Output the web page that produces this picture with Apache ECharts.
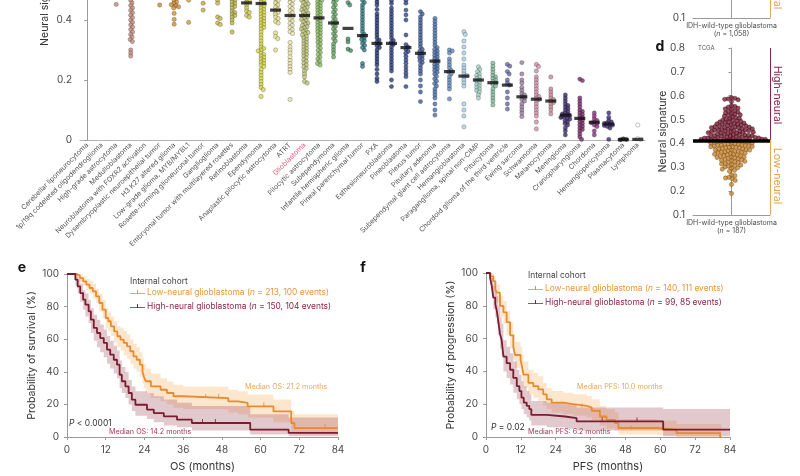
<!DOCTYPE html>
<html><head><meta charset="utf-8">
<script src="https://cdn.jsdelivr.net/npm/echarts@6/dist/echarts.min.js"></script>
<style>html,body{margin:0;padding:0;background:#fff}#c{width:800px;height:476px}</style>
</head><body><div id="c"></div>
<script>
// ---------------- DATA ----------------
const categories = ['Cerebellar liponeurocytoma','1p/19q codeleted oligodendroglioma','High-grade astrocytoma','Medulloblastoma','Neuroblastoma with FOXR2 activation','Dysembryoplastic neuroepithelial tumor','H3 K27 altered glioma','Low-grade glioma, MYB/MYBL1','Rosette-forming glioneuronal tumor','Ganglioglioma','Embryonal tumor with multilayered rosettes','Retinoblastoma','Ependymoma','Anaplastic pilocytic astrocytoma','ATRT','Glioblastoma','Pilocytic astrocytoma','Subependymoma','Infantile hemispheric glioma','Pineal parenchymal tumor','PXA','Esthesioneuroblastoma','Pineoblastoma','Plexus tumor','Pituitary adenoma','Subependymal giant cell astrocytoma','Hemangioblastoma','Paraganglioma, spinal non-CIMP','Pituicytoma','Chordoid glioma of the third ventricle','Ewing sarcoma','Schwannoma','Melanocytoma','Meningioma','Craniopharyngioma','Chordoma','Hemangiopericytoma','Plasmacytoma','Lymphoma'];
const medianSignature = [0.53,0.53,0.5,0.5,0.55,0.52,0.5,0.5,0.5,0.5,0.48,0.457,0.455,0.433,0.415,0.415,0.407,0.39,0.372,0.348,0.322,0.322,0.308,0.289,0.263,0.228,0.213,0.2,0.191,0.183,0.144,0.136,0.13,0.083,0.072,0.059,0.053,0.001,0.002];
const tumorValues = [
 [0.6,0.56,0.53,0.51,0.49],
 [0.62,0.6,0.58,0.56,0.55,0.53,0.52,0.5,0.49,0.48],
 [0.58,0.55,0.52,0.5,0.49,0.48,0.452],
 [0.62,0.59,0.56,0.54,0.52,0.5,0.49,0.48,0.466,0.457,0.448,0.44,0.432,0.424,0.416,0.408,0.4,0.392,0.384,0.376,0.368,0.36,0.352,0.343,0.335,0.328,0.3,0.29,0.28],
 [0.6,0.57,0.54,0.52],
 [0.58,0.55,0.52,0.5,0.45],
 [0.6,0.56,0.53,0.5,0.48,0.466,0.46,0.455,0.451,0.447,0.444,0.44,0.422,0.402,0.386],
 [0.57,0.53,0.5,0.466,0.392],
 [0.55,0.5,0.456,0.433],
 [0.6,0.55,0.52,0.5,0.48,0.466,0.456,0.41,0.405,0.39,0.385],
 [0.58,0.54,0.52,0.5,0.49,0.48,0.47,0.465,0.46,0.455,0.45,0.445,0.44,0.43,0.425,0.42,0.415,0.41,0.4,0.39,0.36],
 [0.54,0.51,0.49,0.48,0.47,0.466,0.46,0.45,0.44,0.43,0.425,0.415,0.41],
 [0.6,0.58,0.56,0.54,0.53,0.52,0.51,0.5,0.495,0.49,0.485,0.48,0.475,0.47,0.465,0.46,0.455,0.45,0.445,0.44,0.435,0.43,0.425,0.42,0.415,0.41,0.405,0.4,0.395,0.39,0.385,0.38,0.375,0.37,0.36,0.35,0.34,0.33,0.32,0.31,0.305,0.3,0.297,0.29,0.285,0.28,0.275,0.27,0.265,0.26,0.255,0.25,0.245,0.235,0.225,0.215,0.205,0.195,0.185,0.175,0.168,0.145],
 [0.56,0.52,0.5,0.48,0.47,0.465,0.457,0.45,0.443,0.436,0.43,0.425,0.42,0.41,0.405,0.395,0.39,0.357,0.345,0.338,0.3],
 [0.58,0.55,0.52,0.5,0.49,0.48,0.47,0.466,0.459,0.452,0.445,0.438,0.431,0.424,0.417,0.41,0.403,0.396,0.389,0.382,0.375,0.368,0.361,0.355,0.325,0.31,0.3,0.29,0.277,0.265,0.255,0.245,0.235,0.225,0.135],
 [0.62,0.58,0.55,0.53,0.51,0.5,0.49,0.48,0.475,0.47,0.466,0.462,0.458,0.454,0.45,0.446,0.442,0.438,0.434,0.43,0.426,0.422,0.418,0.414,0.41,0.406,0.402,0.398,0.394,0.39,0.386,0.382,0.378,0.374,0.37,0.366,0.362,0.358,0.354,0.35,0.345,0.34,0.335,0.33,0.325,0.32,0.315,0.31,0.305,0.3,0.295,0.29,0.285,0.28,0.274,0.268,0.262,0.256,0.25,0.244,0.238,0.23,0.22,0.21,0.195,0.19],
 [0.6,0.56,0.53,0.51,0.5,0.49,0.48,0.47,0.466,0.461,0.456,0.451,0.446,0.441,0.436,0.431,0.426,0.421,0.416,0.411,0.406,0.401,0.396,0.391,0.386,0.381,0.376,0.371,0.366,0.361,0.356,0.35,0.344,0.338,0.332,0.326,0.32,0.313,0.306,0.299,0.292,0.285,0.277,0.27,0.262,0.255,0.25],
 [0.55,0.5,0.48,0.47,0.466,0.458,0.45,0.442,0.434,0.426,0.418,0.41,0.402,0.395,0.39,0.385,0.378,0.37,0.362,0.354,0.346,0.338,0.33,0.32,0.31,0.3,0.29,0.277],
 [0.55,0.5,0.48,0.458,0.45,0.337,0.327,0.303,0.298],
 [0.52,0.48,0.466,0.458,0.45,0.44,0.43,0.42,0.41,0.4,0.39,0.38,0.37,0.36,0.352,0.346,0.34,0.335,0.33,0.322,0.315,0.308,0.3,0.255,0.245],
 [0.5,0.47,0.46,0.45,0.435,0.42,0.41,0.4,0.39,0.38,0.37,0.36,0.35,0.34,0.333,0.326,0.32,0.314,0.308,0.3,0.29,0.28,0.27,0.26,0.25,0.235,0.22,0.205,0.195],
 [0.5,0.48,0.465,0.455,0.44,0.43,0.42,0.41,0.4,0.39,0.38,0.37,0.36,0.35,0.34,0.332,0.325,0.318,0.31,0.3,0.29,0.28,0.27,0.26,0.25,0.24,0.23,0.2,0.178],
 [0.5,0.48,0.466,0.456,0.433,0.417,0.4,0.35,0.318,0.31,0.302,0.295,0.289,0.278,0.267,0.256,0.244,0.233,0.222,0.211,0.178],
 [0.428,0.42,0.41,0.4,0.39,0.38,0.37,0.36,0.35,0.34,0.33,0.32,0.31,0.302,0.296,0.29,0.285,0.28,0.275,0.27,0.264,0.258,0.25,0.24,0.23,0.22,0.2,0.18,0.16,0.128],
 [0.405,0.395,0.385,0.375,0.365,0.355,0.345,0.335,0.325,0.315,0.308,0.302,0.297,0.292,0.287,0.282,0.277,0.272,0.267,0.262,0.257,0.252,0.247,0.242,0.237,0.232,0.226,0.22,0.212,0.204,0.196,0.188,0.18,0.17,0.16,0.15,0.14,0.12,0.1,0.083],
 [0.3,0.297,0.29,0.27,0.26,0.25,0.24,0.232,0.226,0.22,0.21,0.2,0.19,0.18,0.17,0.137],
 [0.361,0.352,0.33,0.31,0.29,0.27,0.25,0.24,0.23,0.22,0.215,0.21,0.2,0.19,0.18,0.12,0.1,0.08,0.044],
 [0.244,0.235,0.228,0.22,0.215,0.21,0.205,0.2,0.195,0.19,0.185,0.18,0.175,0.17,0.165,0.16,0.15,0.14],
 [0.256,0.245,0.235,0.225,0.215,0.21,0.205,0.2,0.195,0.19,0.185,0.18,0.17,0.16,0.15,0.14,0.13,0.117],
 [0.252,0.246,0.228,0.22,0.2,0.19,0.183,0.16,0.14,0.12,0.103],
 [0.258,0.22,0.2,0.19,0.175,0.165,0.155,0.15,0.145,0.14,0.135,0.13,0.12,0.11,0.1,0.09,0.078],
 [0.252,0.245,0.23,0.21,0.2,0.19,0.18,0.17,0.16,0.15,0.145,0.14,0.135,0.13,0.12,0.11,0.1,0.09,0.08,0.06,0.037],
 [0.21,0.17,0.16,0.15,0.14,0.135,0.13,0.125,0.12,0.11,0.1,0.087],
 [0.15,0.14,0.13,0.12,0.115,0.11,0.105,0.1,0.095,0.09,0.087,0.085,0.082,0.08,0.077,0.075,0.072,0.07,0.065,0.06,0.055,0.05,0.04,0.03,0.017],
 [0.203,0.198,0.14,0.13,0.12,0.11,0.1,0.095,0.09,0.085,0.08,0.075,0.07,0.065,0.06,0.055,0.05,0.045,0.04,0.035,0.03,0.02,0.01,0.002],
 [0.09,0.08,0.07,0.065,0.06,0.057,0.055,0.05,0.045,0.03,0.017],
 [0.09,0.075,0.065,0.06,0.057,0.055,0.052,0.05,0.048,0.045,0.04,0.002],
 [0.004,0.002,0.001],
 [0.05,0.004,0.002]
];
const tumorColors = ['#c48a84','#c48a84','#c28580','#c48a7a','#cc7f3a','#d08a30','#cf8f2c','#c9a030','#c8a838','#c9b84a','#bdb545','#cccc4c','#d6d648','#e2df85','#e6e3a6','#bcc574','#8cbc62','#62a45f','#3b8a60','#2a7a80','#22346c','#283a80','#2c4689','#3c5c9a','#4a70ab','#5e88b8','#a4d0e8','#9fd2c6','#80b99a','#6867a6','#9a7aa0','#cf8ea8','#cc8a98','#3a2a6a','#7a2a6a','#8a3080','#3a2a70','#111111','#ffffff'];

const tcgaHigh = [0.592,0.589,0.587,0.585,0.583,0.575,0.558,0.555,0.552,0.548,0.545,0.542,0.537,0.534,0.531,0.528,0.525,0.522,0.52,0.517,0.514,0.511,0.508,0.505,0.503,0.501,0.498,0.496,0.494,0.492,0.49,0.489,0.487,0.485,0.483,0.482,0.48,0.479,0.478,0.476,0.474,0.473,0.471,0.47,0.469,0.468,0.467,0.466,0.465,0.463,0.462,0.461,0.459,0.458,0.457,0.456,0.455,0.454,0.453,0.452,0.451,0.449,0.448,0.447,0.446,0.445,0.444,0.443,0.441,0.439,0.438,0.437,0.436,0.435,0.434,0.433,0.432,0.431,0.43,0.429,0.428,0.427,0.426,0.425,0.424,0.423,0.423,0.422,0.421,0.421,0.42,0.419,0.419,0.418,0.418,0.417,0.417,0.416,0.416];
const tcgaLow = [0.414,0.413,0.412,0.411,0.41,0.409,0.408,0.407,0.406,0.405,0.404,0.402,0.401,0.399,0.398,0.397,0.396,0.395,0.394,0.393,0.392,0.391,0.39,0.389,0.387,0.386,0.385,0.384,0.383,0.382,0.381,0.379,0.377,0.376,0.374,0.373,0.372,0.371,0.369,0.367,0.366,0.364,0.363,0.362,0.361,0.359,0.357,0.355,0.353,0.352,0.351,0.349,0.347,0.345,0.343,0.342,0.341,0.339,0.337,0.335,0.333,0.331,0.329,0.327,0.325,0.323,0.321,0.319,0.316,0.314,0.311,0.309,0.306,0.304,0.301,0.298,0.295,0.292,0.287,0.283,0.268,0.265,0.258,0.255,0.252,0.245,0.228,0.19];
const tcgaMedian = 0.415;
const cohortThreshold = 0.42;

const osLowT  = [0,3,4,5,6,7,8,9,10,11,12,12.8,13.6,14.6,15.6,16.6,17.6,18.6,19.6,20.6,21.6,22.6,23.4,23.8,24.4,26,29,31,33,36,50,53,56,64,69.5,70.5,84];
const osLowS  = [100,99,97.5,95.5,93.5,91.4,89.4,86.3,82.2,78.1,73,71,67.9,64.8,61.8,59.7,57.7,55.6,52.6,49.5,47.4,44.4,40,37.2,34.2,31.1,29,27,25,23.9,21.9,20.9,18.8,15.7,8.6,5.5,5.5];
const osLowLo = [100,97,95,93,90,88,85,82,77,73,67,65,62,58,55,53,50,48,45,42,40,37,33,30,27,24,22,20,18,17,15,14,12,9,3,1.5,1.5];
const osLowHi = [100,100,100,98.5,97,96,94,91,88,84,79,77,74,71,68,67,65,63,60,57,55,52,48,45,42,39,36,34,32,31,29,28,26,23,16,14,14];
const osHighT  = [0,2.6,3.3,4.1,5,5.7,6.7,7.4,8.3,9.3,10.3,11.4,12.4,13.4,14.5,15.5,16.3,17,18.1,19.1,20.1,21.2,24.8,26.9,30,34.1,38.7,56.8,68.7,84];
const osHighS  = [100,96.5,92.4,88.3,84.3,81.2,77.1,72,66.9,63.8,60.7,57.7,53.6,50.5,47.4,44.4,38.2,34.2,31.1,27,22.9,19.8,16.8,14.7,12.7,10.6,8.6,4.5,2.5,2.5];
const osHighLo = [100,93,88,83,78,74,70,64,59,55,52,49,45,42,39,36,30,27,24,20,16,13,11,9,7,6,4,1.5,0.5,0.5];
const osHighHi = [100,100,97,94,90,88,84,79,75,72,69,66,62,59,56,53,47,43,40,35,31,28,27,25,23,21,19,14,12,12];
const pfsLowT  = [0,1.4,2.5,3.2,3.7,4.8,6,7.1,8.3,9.4,10,11.9,12.5,12.9,14.6,16.3,18,19.7,20.9,22.6,26.6,30.1,34.7,36.4,39.2,41.5,44.4,45.6,58.8,65.6,80.6,81];
const pfsLowS  = [100,98,95,90,88,80,76,70,62,55,50,47,42,38,33,31,29,26,23,21,20,19,18,16,12.5,10.5,8.5,5.5,4.5,2.4,0,0];
const pfsLowLo = [100,95,91,85,82,73,69,62,54,47,42,39,34,30,26,24,22,19,17,15,14,13,12,10,7,5,4,1.5,1,0,0,0];
const pfsLowHi = [100,100,99,95,93,86,83,77,70,63,58,55,50,46,41,39,37,33,30,28,27,26,25,23,19,17,15,11,10,8,8,8];
const pfsHighT  = [0,1.4,2,2.5,3.2,3.7,4.2,4.8,5.4,6,7.1,8.3,9.4,10.6,11.5,12.2,13,14,14.9,15.6,20.9,27.2,31.2,61,84];
const pfsHighS  = [100,97,92,85,81,77,71,63,59,49,45,41,36,31,28,24,21,19,17,13.5,12.5,11.5,9.5,4.5,4.5];
const pfsHighLo = [100,93,86,78,73,69,62,54,50,40,36,32,27,23,20,17,14,12,10,7,6,5,4,0.5,0.5];
const pfsHighHi = [100,100,97,92,89,86,80,73,69,59,55,51,46,41,38,34,31,28,26,22,21,20,18,17,17];
const osLowCensor = [[43,23.9],[47,23.9],[61,18.8],[80,5.5]];
const osHighCensor = [[42,8.6],[46,8.6]];
const pfsLowCensor = [[33,18],[50,4.5]];
const pfsHighCensor = [[40,9.5],[52,9.5]];

// ---------------- STYLE / LAYOUT ----------------
const FONT = 'Inter, "Noto Sans", "DejaVu Sans", sans-serif';
const ORANGE = '#e88a2d', MAROON = '#7b1d31';
const ORANGE_T = '#e8963c', MAROON_T = '#8c2448';
const AX = '#9a9a9a', LBL = '#4a4a4a';
const LEG_FS = 8.4;
const A_W = 565, A_CAT = A_W / categories.length, A_PX = 300;
const D_W = 77, D_PX = 240;

function swarm(vals, pxPerUnit, d, maxHalf) {
  const idx = vals.map((v, i) => i).sort((a, b) => vals[b] - vals[a]);
  const placed = [], out = new Array(vals.length);
  for (const i of idx) {
    const y = vals[i] * pxPerUnit;
    const near = placed.filter(p => Math.abs(p.y - y) < d);
    const cands = [0];
    near.forEach(p => { const dx = Math.sqrt(d * d - (p.y - y) ** 2); cands.push(p.x + dx, p.x - dx); });
    cands.sort((a, b) => Math.abs(a) - Math.abs(b));
    let best = null;
    for (const c of cands) {
      if (near.every(p => (p.x - c) ** 2 + (p.y - y) ** 2 >= d * d - 1e-6)) { best = c; break; }
    }
    if (best === null) best = 0;
    if (Math.abs(best) > maxHalf) best = Math.sign(best) * maxHalf;
    placed.push({ x: best, y });
    out[i] = best;
  }
  return out;
}

const aPoints = [];
tumorValues.forEach((vals, c) => {
  const offs = swarm(vals, A_PX, 3.0, 4.5);
  vals.forEach((v, k) => aPoints.push({ value: [c + offs[k] / A_CAT, v], itemStyle: { color: tumorColors[c] } }));
});
const aMedians = medianSignature.map((m, c) => [c, m]);

function dPoints(vals) {
  const offs = swarm(vals, D_PX, 3.5, D_W / 2 - 1);
  return vals.map((v, k) => [offs[k] / (D_W / 2), v]);
}
const dHigh = dPoints(tcgaHigh), dLow = dPoints(tcgaLow);

function band(t, lo, hi, color, xi, yi) {
  return {
    type: 'custom', xAxisIndex: xi, yAxisIndex: yi, silent: true, z: 1,
    data: t.map((x, i) => [x, lo[i], hi[i]]),
    encode: { x: 0, y: [1, 2] },
    renderItem(params, api) {
      if (params.dataIndex !== 0) return null;
      const pts = [];
      for (let i = 0; i < t.length; i++) { pts.push(api.coord([t[i], hi[i]])); if (i < t.length - 1) pts.push(api.coord([t[i + 1], hi[i]])); }
      for (let i = t.length - 1; i >= 0; i--) { if (i < t.length - 1) pts.push(api.coord([t[i + 1], lo[i]])); pts.push(api.coord([t[i], lo[i]])); }
      return { type: 'polygon', shape: { points: pts }, style: { fill: color } };
    }
  };
}
function km(name, t, s, color, xi, yi) {
  return { name, type: 'line', step: 'end', xAxisIndex: xi, yAxisIndex: yi, symbol: 'none', z: 3,
    data: t.map((x, i) => [x, s[i]]), lineStyle: { color, width: 1.8 }, itemStyle: { color } };
}
function censor(pts, color, xi, yi) {
  return { type: 'scatter', xAxisIndex: xi, yAxisIndex: yi, symbol: 'rect', symbolSize: [1, 4], symbolOffset: [0, -2],
    itemStyle: { color }, data: pts, z: 4, silent: true };
}

const baseAxis = (extra) => Object.assign({
  axisLine: { show: true, lineStyle: { color: AX, width: 1 } },
  axisTick: { show: true, length: 3, lineStyle: { color: AX } },
  axisLabel: { color: LBL, fontSize: 10, fontFamily: FONT, showMinLabel: true, showMaxLabel: true },
  splitLine: { show: false },
  nameTextStyle: { color: '#333', fontSize: 10.5, fontFamily: FONT },
  nameMoveOverlap: false
}, extra);

const NAMES = {
  osLow: 'Low-neural glioblastoma (n = 213, 100 events)',
  osHigh: 'High-neural glioblastoma (n = 150, 104 events)',
  pfsLow: 'Low-neural glioblastoma (n = 140, 111 events)',
  pfsHigh: 'High-neural glioblastoma (n = 99, 85 events)'
};
const LEG_ICON = 'path://M0,5L16,5L16,6L0,6Z M7.5,1.5L8.5,1.5L8.5,5.5L7.5,5.5Z';
const legItem = (name, color) => ({ name, textStyle: { color, rich: { i: { fontStyle: 'italic', color, fontSize: LEG_FS, fontFamily: FONT } } } });
const legendCfg = (left, top, names, colors) => ({
  left, top, orient: 'vertical', padding: 0, itemGap: 6, itemWidth: 15, itemHeight: 7, icon: LEG_ICON,
  selectedMode: false, data: [legItem(names[0], colors[0]), legItem(names[1], colors[1])],
  textStyle: { fontSize: LEG_FS, fontFamily: FONT, padding: [0, 0, 0, -3] },
  formatter: n => n.replace('(n', '({i|n}')
});

function txt(x, y, text, o) {
  o = o || {};
  const style = Object.assign({ text, x: 0, y: 0, fill: o.fill || '#333', fontSize: o.size || 8, fontFamily: FONT,
    fontWeight: o.weight || 'normal', align: o.align || 'left', verticalAlign: 'middle',
    textAlign: o.align || 'left', textVerticalAlign: 'middle' }, o.rich ? { rich: o.rich } : {});
  return { type: 'text', x, y, rotation: o.rot || 0, silent: true, style, z: 10 };
}
const iRich = (color, size) => ({ i: { fontStyle: 'italic', fill: color, color, fontSize: size, fontFamily: FONT } });

const option = {
  animation: false,
  backgroundColor: '#fff',
  grid: [
    { left: 80, top: -130, width: A_W, height: 270, outerBoundsMode: 'none', containLabel: false },
    { left: 693, top: -150, width: D_W, height: 168, outerBoundsMode: 'none', containLabel: false },
    { left: 693, top: 48, width: D_W, height: 167, outerBoundsMode: 'none', containLabel: false },
    { left: 67, top: 274, width: 271, height: 163, outerBoundsMode: 'none', containLabel: false },
    { left: 486, top: 273, width: 244, height: 164, outerBoundsMode: 'none', containLabel: false }
  ],
  xAxis: [
    baseAxis({ type: 'category', gridIndex: 0, data: categories, axisLine: { show: true, lineStyle: { color: '#b5b5b5' } }, axisTick: { show: false },
      axisLabel: { interval: 0, rotate: 45, margin: 4, fontSize: 7, fontFamily: FONT, color: v => v === 'Glioblastoma' ? '#e0607a' : '#555' } }),
    { type: 'value', gridIndex: 0, min: -0.5, max: categories.length - 0.5, show: false },
    baseAxis({ type: 'category', gridIndex: 1, data: ['IDH-wild-type glioblastoma\n({i|n} = 1,058)'], axisTick: { show: false },
      axisLabel: { margin: 4, fontSize: 7, lineHeight: 8, color: LBL, fontFamily: FONT, rich: { i: { fontStyle: 'italic', fontSize: 7, color: LBL } } } }),
    { type: 'value', gridIndex: 1, min: -1, max: 1, show: false },
    baseAxis({ type: 'category', gridIndex: 2, data: ['IDH-wild-type glioblastoma\n({i|n} = 187)'], axisTick: { show: false },
      axisLabel: { margin: 4, fontSize: 7, lineHeight: 8, color: LBL, fontFamily: FONT, rich: { i: { fontStyle: 'italic', fontSize: 7, color: LBL } } } }),
    { type: 'value', gridIndex: 2, min: -1, max: 1, show: false },
    baseAxis({ type: 'value', gridIndex: 3, min: 0, max: 84, interval: 12, name: 'OS (months)', nameLocation: 'middle', nameGap: 24,
      nameTextStyle: { color: '#333', fontSize: 11, fontFamily: FONT } }),
    baseAxis({ type: 'value', gridIndex: 4, min: 0, max: 84, interval: 12, name: 'PFS (months)', nameLocation: 'middle', nameGap: 24,
      nameTextStyle: { color: '#333', fontSize: 11, fontFamily: FONT } })
  ],
  yAxis: [
    baseAxis({ type: 'value', gridIndex: 0, min: 0, max: 0.9, interval: 0.2, name: 'Neural signature', nameLocation: 'middle', nameGap: 30,
      axisLabel: { color: LBL, fontSize: 10, fontFamily: FONT, formatter: v => v === 0 ? '0' : v.toFixed(1) } }),
    baseAxis({ type: 'value', gridIndex: 1, min: 0.1, max: 0.8, interval: 0.1,
      axisLabel: { color: LBL, fontSize: 10, fontFamily: FONT, formatter: v => v.toFixed(1) } }),
    baseAxis({ type: 'value', gridIndex: 2, min: 0.1, max: 0.8, interval: 0.1, name: 'Neural signature', nameLocation: 'middle', nameGap: 25,
      axisLabel: { color: LBL, fontSize: 10, fontFamily: FONT, formatter: v => v.toFixed(1) } }),
    baseAxis({ type: 'value', gridIndex: 3, min: 0, max: 100, interval: 20, name: 'Probability of survival (%)', nameLocation: 'middle', nameGap: 30 }),
    baseAxis({ type: 'value', gridIndex: 4, min: 0, max: 100, interval: 20, name: 'Probability of progression (%)', nameLocation: 'middle', nameGap: 30 })
  ],
  legend: [
    legendCfg(130, 288, [NAMES.osLow, NAMES.osHigh], [ORANGE_T, MAROON_T]),
    legendCfg(528, 284, [NAMES.pfsLow, NAMES.pfsHigh], [ORANGE_T, MAROON_T])
  ],
  series: [
    { type: 'scatter', xAxisIndex: 1, yAxisIndex: 0, symbolSize: 4.3, data: aPoints, z: 2,
      itemStyle: { borderColor: 'rgba(40,30,40,0.55)', borderWidth: 0.6 } },
    { type: 'scatter', xAxisIndex: 1, yAxisIndex: 0, symbol: 'rect', symbolSize: [11, 3.2], data: aMedians, z: 5,
      itemStyle: { color: '#111' } },
    { type: 'scatter', xAxisIndex: 3, yAxisIndex: 1, data: [],
      markLine: { silent: true, symbol: ['none', 'none'], label: { show: false },
        data: [[{ coord: [1, cohortThreshold], lineStyle: { color: '#e5a75c', width: 1, type: 'solid' } }, { coord: [1, 0.1] }]] } },
    { type: 'scatter', xAxisIndex: 5, yAxisIndex: 2, symbolSize: 4.3, data: dLow, z: 2,
      itemStyle: { color: '#c8862e', borderColor: 'rgba(90,50,10,0.7)', borderWidth: 0.6 } },
    { type: 'scatter', xAxisIndex: 5, yAxisIndex: 2, symbolSize: 4.3, data: dHigh, z: 2,
      itemStyle: { color: '#7a1f35', borderColor: 'rgba(40,0,10,0.7)', borderWidth: 0.6 } },
    { type: 'scatter', xAxisIndex: 5, yAxisIndex: 2, data: [], z: 10,
      markLine: { silent: true, symbol: ['none', 'none'], label: { show: false }, z: 10,
        data: [
          { yAxis: tcgaMedian, lineStyle: { color: '#000', width: 3.5, type: 'solid' } },
          [{ coord: [1, 0.8], lineStyle: { color: '#8c2448', width: 1, type: 'solid' } }, { coord: [1, tcgaMedian] }],
          [{ coord: [1, tcgaMedian], lineStyle: { color: '#e5a75c', width: 1, type: 'solid' } }, { coord: [1, 0.1] }]
        ] } },
    band(osLowT, osLowLo, osLowHi, 'rgba(245,185,115,0.35)', 6, 3),
    band(osHighT, osHighLo, osHighHi, 'rgba(150,60,80,0.28)', 6, 3),
    km(NAMES.osLow, osLowT, osLowS, ORANGE, 6, 3),
    km(NAMES.osHigh, osHighT, osHighS, MAROON, 6, 3),
    censor(osLowCensor, ORANGE, 6, 3),
    censor(osHighCensor, MAROON, 6, 3),
    band(pfsLowT, pfsLowLo, pfsLowHi, 'rgba(245,185,115,0.35)', 7, 4),
    band(pfsHighT, pfsHighLo, pfsHighHi, 'rgba(150,60,80,0.28)', 7, 4),
    km(NAMES.pfsLow, pfsLowT, pfsLowS, ORANGE, 7, 4),
    km(NAMES.pfsHigh, pfsHighT, pfsHighS, MAROON, 7, 4),
    censor(pfsLowCensor, ORANGE, 7, 4),
    censor(pfsHighCensor, MAROON, 7, 4)
  ],
  graphic: [
    txt(660, 47, 'd', { size: 14, weight: 'bold', fill: '#111', align: 'center' }),
    txt(698, 48, 'TCGA', { size: 6, fill: '#555' }),
    txt(777, 95, 'High-neural', { size: 10.5, fill: '#8c2448', align: 'center', rot: -Math.PI / 2 }),
    txt(777, 176, 'Low-neural', { size: 10.5, fill: '#e1a04e', align: 'center', rot: -Math.PI / 2 }),
    txt(777, -19, 'Low-neural', { size: 10.5, fill: '#e1a04e', align: 'center', rot: -Math.PI / 2 }),
    txt(22, 268, 'e', { size: 14, weight: 'bold', fill: '#111', align: 'center' }),
    txt(363, 268, 'f', { size: 14, weight: 'bold', fill: '#111', align: 'center' }),
    txt(130, 281, 'Internal cohort', { size: LEG_FS, fill: '#444' }),
    txt(528, 275, 'Internal cohort', { size: LEG_FS, fill: '#444' }),
    txt(245, 387, 'Median OS: 21.2 months', { size: 7.2, fill: '#eaa55a' }),
    txt(109, 432, 'Median OS: 14.2 months', { size: 7.2, fill: '#a33a5a' }),
    txt(69, 423, '{i|P} < 0.0001', { size: 8.5, fill: '#333', rich: iRich('#333', 8.5) }),
    txt(577, 387, 'Median PFS: 10.0 months', { size: 7.2, fill: '#eaa55a' }),
    txt(528, 432, 'Median PFS: 6.2 months', { size: 7.2, fill: '#a33a5a' }),
    txt(491, 427, '{i|P} = 0.02', { size: 8.5, fill: '#333', rich: iRich('#333', 8.5) })
  ]
};

const chart = echarts.init(document.getElementById('c'), null, { renderer: 'canvas' });
chart.setOption(option);
</script></body></html>
